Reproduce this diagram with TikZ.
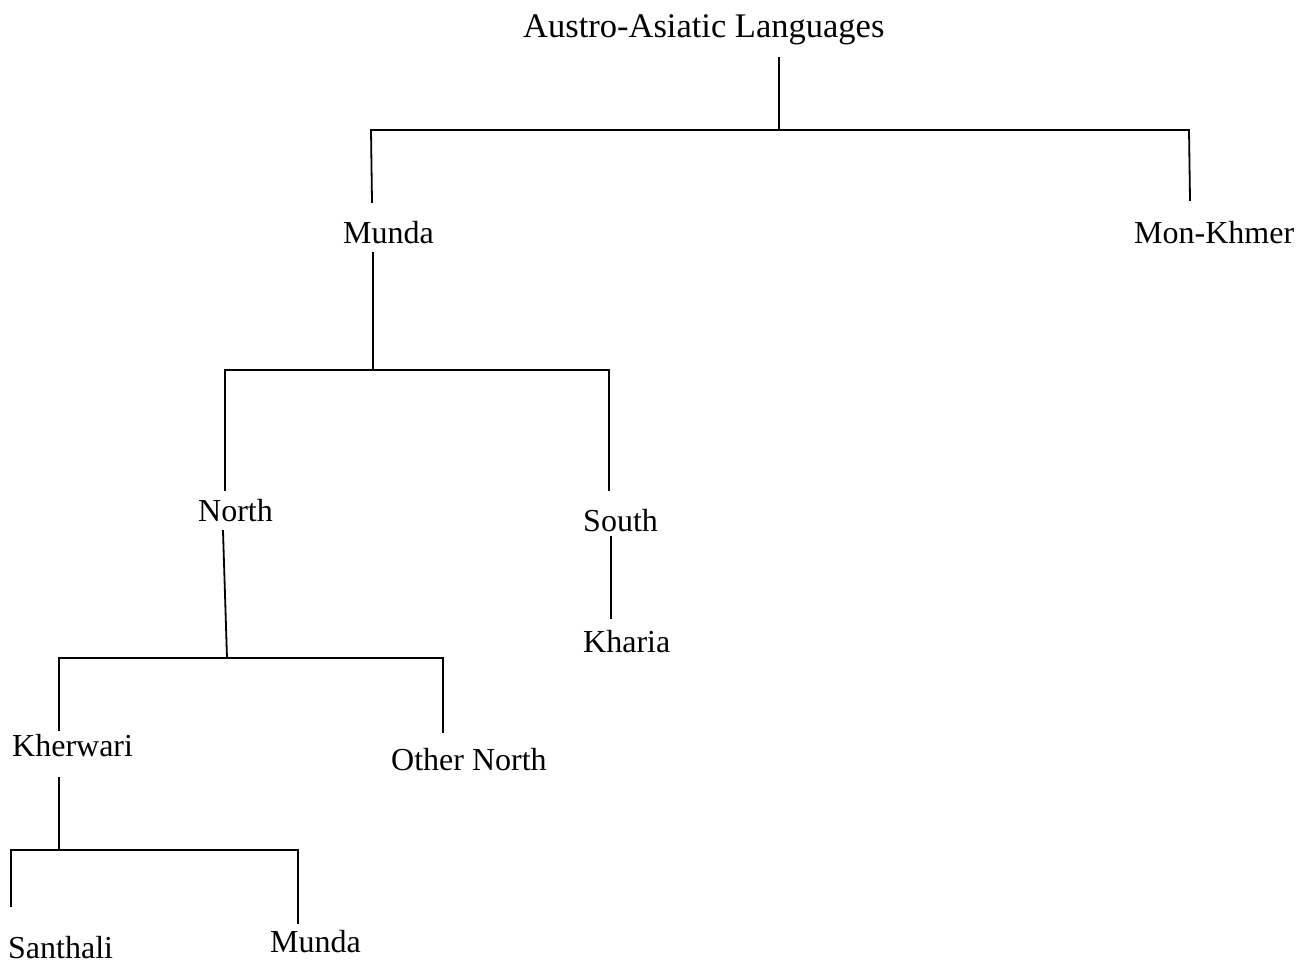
\documentclass[tikz,border=0pt]{standalone}
\usepackage{fontspec}
\setmainfont{Liberation Serif}
\begin{document}
\begin{tikzpicture}[x=1pt,y=-1pt,
  lang/.style={inner sep=0pt,anchor=base west,font=\fontsize{32}{38}\selectfont},
  branch/.style={line width=1.8pt,line cap=rect}]
\useasboundingbox (0,0) rectangle (1308,971);

% language labels
\node[lang,font=\fontsize{34.5}{41}\selectfont] (aa) at (523,38) {Austro-Asiatic Languages};
\node[lang] (munda)   at (343,243) {Munda};
\node[lang] (mk)      at (1134,243) {Mon-Khmer};
\node[lang] (north)   at (198,521) {North};
\node[lang] (south)   at (583,531) {South};
\node[lang] (kharia)  at (583,652) {Kharia};
\node[lang] (kher)    at (12,756) {Kherwari};
\node[lang] (other)   at (391,770) {Other North};
\node[lang] (santh)   at (8,958) {Santhali};
\node[lang] (munda2)  at (270,952) {Munda};

% branch points
\coordinate (aaS)   at (779,58);
\coordinate (aaJ)   at (779,130);
\coordinate (b1L)   at (371,130);
\coordinate (b1R)   at (1189,130);
\coordinate (mundaN) at (372,202);
\coordinate (mkN)   at (1190,200);

\coordinate (mundaS) at (373,253);
\coordinate (mundaJ) at (373,370);
\coordinate (b2L)   at (225,370);
\coordinate (b2R)   at (609,370);
\coordinate (northN) at (225,490);
\coordinate (southN) at (609,490);

\coordinate (southS) at (611,537);
\coordinate (khariaN) at (611,618);

\coordinate (northS) at (223,531);
\coordinate (northJ) at (227,658);
\coordinate (b3L)   at (59,658);
\coordinate (b3R)   at (443,658);
\coordinate (kherN) at (59,730);
\coordinate (otherN) at (443,732);

\coordinate (kherS) at (59,778);
\coordinate (kherJ) at (59,850);
\coordinate (b4L)   at (11,850);
\coordinate (b4R)   at (298,850);
\coordinate (santhN) at (11,906);
\coordinate (munda2N) at (298,923);

% branches
\draw[branch] (aaS) -- (aaJ);
\draw[branch] (mundaN) -- (b1L) -- (b1R) -- (mkN);
\draw[branch] (mundaS) -- (mundaJ);
\draw[branch] (northN) -- (b2L) -- (b2R) -- (southN);
\draw[branch] (southS) -- (khariaN);
\draw[branch] (northS) -- (northJ);
\draw[branch] (kherN) -- (b3L) -- (b3R) -- (otherN);
\draw[branch] (kherS) -- (kherJ);
\draw[branch] (santhN) -- (b4L) -- (b4R) -- (munda2N);
\end{tikzpicture}
\end{document}
